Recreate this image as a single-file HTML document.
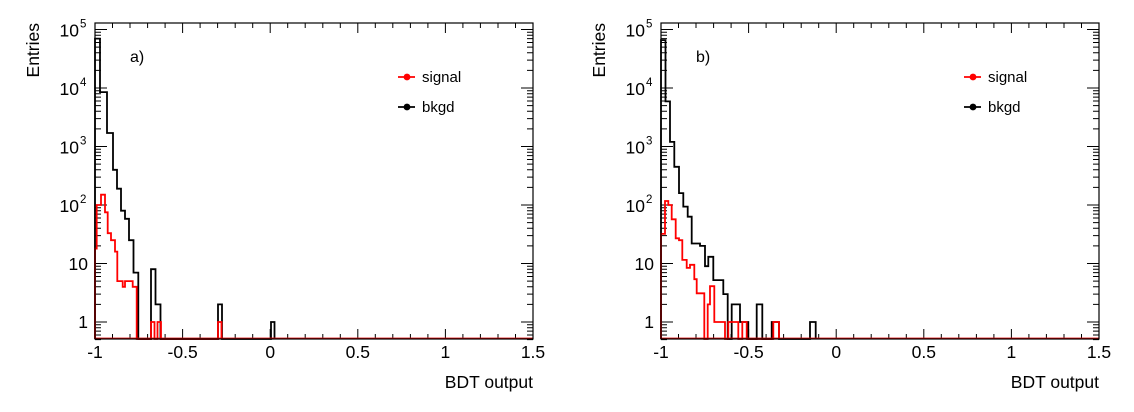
<!DOCTYPE html>
<html><head><meta charset="utf-8"><style>
html,body{margin:0;padding:0;background:#fff;}
svg text{font-family:"Liberation Sans",sans-serif;fill:#000;}
</style></head><body>
<svg id="s" width="1134" height="407" xmlns="http://www.w3.org/2000/svg"></svg>
<script>
const S=document.getElementById('s');
let h='';
function Y(v){return v<=0.5?339:322-58.5*Math.log10(v);}
function step(x0,segs,col,w){
  let d='M'+x0+' 339';let x=x0;
  for(const [xe,v] of segs){d+=' L'+x+' '+Y(v).toFixed(1)+' L'+xe+' '+Y(v).toFixed(1);x=xe;}
  d+=' L'+x+' 339';
  h+=`<path d="${d}" fill="none" stroke="${col}" stroke-width="${w}"/>`;
}
function panel(X0,lab,black,red){
  const X1=X0+438, T=23, B=339, k=175.2;
  let t='';
  for(let i=0;i<=25;i++){const x=X0+i*k/10;const L=(i%5==0)?10:5;
    t+=`M${x.toFixed(1)} ${B}v-${L}M${x.toFixed(1)} ${T}v${L}`;}
  for(let e=0;e<=5;e++){const y=322-58.5*e;t+=`M${X0} ${y}h12M${X1} ${y}h-12`;
    for(let m=2;m<=9;m++){const yy=322-58.5*(e+Math.log10(m));if(yy<T)break;t+=`M${X0} ${yy.toFixed(1)}h6M${X1} ${yy.toFixed(1)}h-6`;}}
  for(let m of [0.5,0.6,0.7,0.8,0.9]){const yy=Y(m+0.0001);t+=`M${X0} ${yy.toFixed(1)}h6M${X1} ${yy.toFixed(1)}h-6`;}
  h+=`<path d="${t}" stroke="#000" stroke-width="1" fill="none"/>`;
  step(X0,black,'#000',1.8);
  step(X0,red,'#f00',1.8);
  h+=`<line x1="${X0}" y1="338.5" x2="${X1}" y2="338.5" stroke="#d00" stroke-width="1.8"/>`;
  h+=`<rect x="${X0}" y="${T}" width="438" height="${B-T}" fill="none" stroke="#000" stroke-width="1.2"/>`;
  const xl=[['-1',0],['-0.5',0.5],['0',1],['0.5',1.5],['1',2],['1.5',2.5]];
  for(const [s,v] of xl)h+=`<text x="${X0+v*k}" y="358" font-size="17.5" text-anchor="middle">${s}</text>`;
  const yl=[['1',322],['10',264]];
  for(const [s,y] of yl)h+=`<text x="${X0-7}" y="${y+6}" font-size="17.5" text-anchor="end">${s}</text>`;
  for(let e=2;e<=5;e++){const y=322-58.5*e;h+=`<text x="${X0-16}" y="${y+7}" font-size="17.5" text-anchor="end">10</text><text x="${X0-15}" y="${y-2}" font-size="11.5">${e}</text>`;}
  h+=`<text x="${X1}" y="388" font-size="17.5" text-anchor="end">BDT output</text>`;
  h+=`<text transform="translate(${X0-56},23) rotate(-90)" font-size="17.5" text-anchor="end">Entries</text>`;
  h+=`<text x="${X0+35}" y="62" font-size="16">${lab}</text>`;
  const lx=X0+303;
  h+=`<line x1="${lx}" y1="77" x2="${lx+17}" y2="77" stroke="#f00" stroke-width="1.8"/><circle cx="${lx+9}" cy="77" r="3.4" fill="#f00"/><text x="${lx+24}" y="82" font-size="15">signal</text>`;
  h+=`<line x1="${lx}" y1="107" x2="${lx+17}" y2="107" stroke="#000" stroke-width="1.8"/><circle cx="${lx+9}" cy="107" r="3.4" fill="#000"/><text x="${lx+24}" y="112" font-size="15">bkgd</text>`;
}
panel(95,'a)',
 [[100,70000],[107,8500],[113,1700],[117,400],[121,190],[125,80],[129,58],[133.5,25],[138.3,7],[151,0],[155.5,8],[160.5,2],[218,0],[222,2],[271,0],[274.5,1]],
 [[96.7,18],[101,100],[105,150],[107.7,75],[111,33],[115,25],[117.3,16],[122.7,5],[125,4],[132.7,5],[136.7,4],[151,0],[154.5,1],[157.5,0],[161,1],[218,0],[221.5,1]]);
panel(661,'b)',
 [[665.5,66000],[670,5900],[674.3,1200],[679,450],[683.3,160],[687.7,94],[691.7,63],[700,22],[705,20],[708.3,9],[713.3,13],[723.3,5.2],[727.7,3],[731.7,0],[740,2],[748.3,1],[756.7,0],[762.3,2],[771.7,0],[779,1],[810,0],[815.7,1]],
 [[665,32],[668.3,117],[671.7,100],[675.7,57],[679,27],[682.3,25],[686.7,11.5],[690,8.4],[694.3,9.5],[696.7,5.4],[704.3,3.1],[707.7,0],[710,2],[714.3,4.1],[725,1],[728.3,0],[738.3,1],[742.3,0],[746.7,1],[773.3,0],[779,1]]);
S.innerHTML=h;
</script>
</body></html>
